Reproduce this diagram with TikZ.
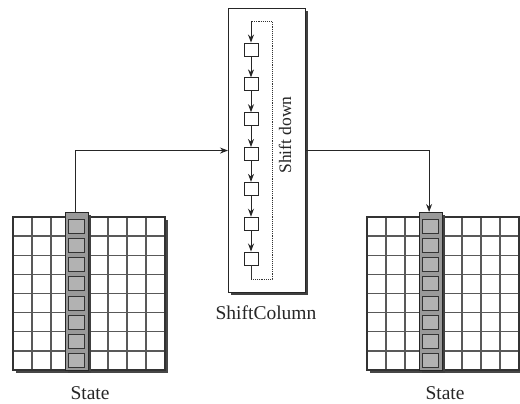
\documentclass[tikz,border=0pt]{standalone}
\usepackage{fontspec}
\setmainfont{Liberation Serif}
\usetikzlibrary{arrows.meta}
\begin{document}
\begin{tikzpicture}[x=1pt,y=-1pt,
  gridline/.style={draw=black!65,line width=1.3pt},
  gridborder/.style={draw=black!80,line width=1.2pt},
  slabshadow/.style={fill=black!72,draw=none},
  colbox/.style={fill=black!40,draw=black!85,line width=1.2pt,inner sep=0pt,anchor=north west,minimum width=23pt,minimum height=158pt},
  colcell/.style={fill=black!30,draw=black!80,line width=0.9pt},
  conn/.style={draw=black!85,line width=1pt,-{Stealth[length=8pt,width=6pt]}},
  lbl/.style={font=\fontsize{19.5}{21}\selectfont,text=black!85},
  cellbox/.style={draw=black!85,line width=0.9pt,minimum width=14pt,minimum height=13pt,inner sep=0pt,fill=white},
  loopline/.style={draw=black!80,line width=0.9pt},
  outerbox/.style={draw=black!85,line width=1.1pt,fill=white,inner sep=0pt,anchor=north west,minimum width=77pt,minimum height=284pt}]
\useasboundingbox (0,0) rectangle (520,404);
% state grids
\foreach \gx/\nm in {13/l,367/r}{
  \fill[slabshadow] ({\gx+3},220) rectangle ({\gx+155},373);
  \fill[white] (\gx,217) rectangle ({\gx+152},370);
  \foreach \i in {1,...,7}{
    \draw[gridline] ({\gx+\i*19},217) -- ++(0,153);
    \draw[gridline] (\gx,{217+\i*19.125}) -- ++(152,0);
  }
  \draw[gridborder] (\gx,217) rectangle ({\gx+152},370);
  \fill[black!75] ({\gx+55},215) rectangle ({\gx+78},373);
  \node[colbox] (col\nm) at ({\gx+52},212) {};
  \foreach \j in {0,...,7}{
    \draw[colcell] ({\gx+55},{217+\j*19.125+2.5}) rectangle ++(16,14);
  }
}
\node[lbl] (lstate) at (90,393) {State};
\node[lbl] (rstate) at (445,393) {State};
% ShiftColumn box
\fill[black!75] (231,11) rectangle (308,295);
\node[outerbox] (box) at (228,8) {};
\node[lbl] (boxlbl) at (266,313) {ShiftColumn};
\foreach \k in {0,...,6}{
  \node[cellbox] (s\k) at (251,{49.5+\k*34.83}) {};
}
\foreach \k [evaluate=\k as \n using int(\k+1)] in {0,...,5}{
  \draw[conn] (s\k.south) -- (s\n.north);
}
\coordinate (lpA) at (251,279);
\coordinate (lpB) at (272,279);
\coordinate (lpC) at (272,21);
\coordinate (lpD) at (251,21);
\draw[loopline] (s6.south) -- (lpA);
\draw[loopline,densely dotted] (lpA) -- (lpB) -- (lpC) -- (lpD);
\draw[conn] (lpD) -- (s0.north);
\node[font=\fontsize{17.5}{19}\selectfont,text=black!85,rotate=90] (shiftlbl) at (285,135) {Shift down};
% connectors
\draw[conn] ([xshift=-2pt]coll.north) |- (box.west);
\draw[conn] (box.east) -| ([xshift=-2pt]colr.north);
\end{tikzpicture}
\end{document}
